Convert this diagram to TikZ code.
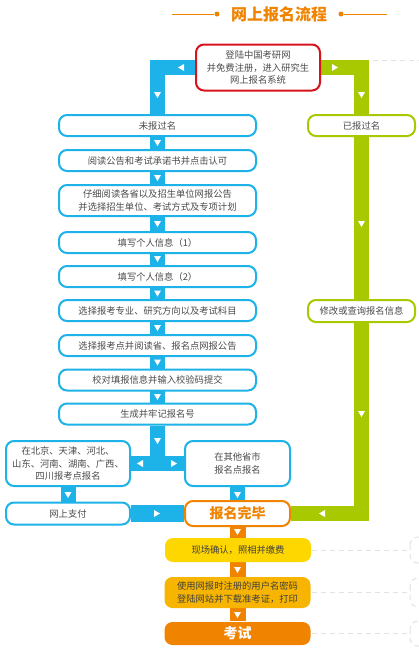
\documentclass[tikz,border=0pt]{standalone}
\usepackage{fontspec}
\setmainfont{Noto Sans CJK SC}
\newfontfamily\cjk{Noto Sans CJK SC}
\definecolor{cblue}{HTML}{1DB3E9}
\definecolor{cgreen}{HTML}{A8C800}
\definecolor{cred}{HTML}{D7141E}
\definecolor{corange}{HTML}{F08300}
\definecolor{cyellow}{HTML}{FFD700}
\definecolor{cgold}{HTML}{F7B400}
\definecolor{ctext}{HTML}{4A4A4A}
\definecolor{cfaint}{HTML}{E2E2E2}
\pgfdeclarelayer{bgl}
\pgfdeclarelayer{pipes}
\pgfsetlayers{bgl,pipes,main}
\newcommand\tdown[1]{\fill[white] (#1) ++(-3.5,-3) -- ++(7,0) -- ++(-3.5,6) -- cycle;}
\newcommand\tleft[1]{\fill[white] (#1) ++(3,-3.5) -- ++(0,7) -- ++(-6,-3.5) -- cycle;}
\newcommand\tright[1]{\fill[white] (#1) ++(-3,-3.5) -- ++(0,7) -- ++(6,-3.5) -- cycle;}
\tikzset{
  pipe/.style={line width=15pt},
  bluepipe/.style={pipe, draw=cblue},
  greenpipe/.style={pipe, draw=cgreen},
  orangepipe/.style={pipe, draw=corange},
  box/.style={rectangle, rounded corners=8pt, line width=2pt, fill=white, inner sep=0pt,
    align=center, text=ctext, font=\fontsize{9.3}{12.5}\selectfont},
  bbox/.style={box, draw=cblue, minimum width=197pt, minimum height=21pt},
  gbox/.style={box, draw=cgreen, minimum width=107pt, minimum height=21pt},
  fbox/.style={box, draw=none, minimum width=146pt},
  greydash/.style={draw=cfaint, line width=1pt, dash pattern=on 5pt off 4pt},
  tdot/.style={circle, fill=corange, inner sep=0pt, minimum size=5pt},
}
\begin{document}
\begin{tikzpicture}[x=1pt,y=-1pt]
\begin{pgfonlayer}{bgl}
\fill[white] (0,0) rectangle (419,665);
\end{pgfonlayer}
\useasboundingbox (0,0) rectangle (419,665);

% title
\node[text=corange, font=\fontsize{16}{18}\bfseries\selectfont] (title) at (279,14) {网上报名流程};
\coordinate (tl) at (172,14);
\node[tdot] (d1) at (217,14) {};
\node[tdot] (d2) at (341,14) {};
\coordinate (tr) at (387,14);
\draw[corange, line width=0.8pt] (tl) -- (d1);
\draw[corange, line width=0.8pt] (d2) -- (tr);

% nodes
\node[box, draw=cred, minimum width=124pt, minimum height=46pt] (top) at (258,67.5)
  {登陆中国考研网\\并免费注册，进入研究生\\网上报名系统};
\node[bbox] (nb) at (157.5,125.5) {未报过名};
\node[bbox] (yd) at (157.5,160.5) {阅读公告和考试承诺书并点击认可};
\node[bbox, minimum height=31pt] (zx) at (157.5,200.5) {仔细阅读各省以及招生单位网报公告\\并选择招生单位、考试方式及专项计划};
\node[bbox] (t1) at (157.5,242.5) {填写个人信息（1）};
\node[bbox] (t2) at (157.5,276.5) {填写个人信息（2）};
\node[bbox] (xz) at (157.5,310.5) {选择报考专业、研究方向以及考试科目};
\node[bbox] (xd) at (157.5,345.5) {选择报考点并阅读省、报名点网报公告};
\node[bbox] (jd) at (157.5,380) {校对填报信息并输入校验码提交};
\node[bbox] (sc) at (157.5,414) {生成并牢记报名号};
\node[box, draw=cblue, minimum width=124pt, minimum height=45pt] (bj) at (68,463.5)
  {在北京、天津、河北、\\山东、河南、湖南、广西、\\四川报考点报名};
\node[box, draw=cblue, minimum width=105pt, minimum height=45pt] (qt) at (237.5,463.5)
  {在其他省市\\报名点报名};
\node[box, draw=cblue, minimum width=124pt, minimum height=22pt] (wz) at (68,513.5) {网上支付};
\node[box, draw=corange, minimum width=105pt, minimum height=25pt, text=corange,
  font=\fontsize{14}{16}\bfseries\selectfont] (wc) at (237.5,513.5) {报名完毕};
\node[gbox] (ybg) at (361.5,125.5) {已报过名};
\node[gbox, minimum height=22pt] (xg) at (361.5,311) {修改或查询报名信息};
\node[fbox, fill=cyellow, minimum height=24pt, text=black!75] (xc) at (238,550) {现场确认，照相并缴费};
\node[fbox, fill=cgold, minimum height=31pt, text=black!75] (dl) at (237.5,592.5) {使用网报时注册的用户名密码\\登陆网站并下载准考证，打印};
\node[fbox, fill=corange, minimum height=23pt, text=white,
  font=\fontsize{14}{16}\bfseries\selectfont] (ks) at (237.5,633.5) {考试};

% pipes
\coordinate (j) at (157.5,463.5);
\begin{pgfonlayer}{pipes}
\draw[bluepipe] (top.west) -| (nb.north);
\draw[bluepipe] (nb) -- (sc);
\draw[bluepipe] (sc) -- (j);
\draw[bluepipe] (bj) -- (qt);
\draw[bluepipe] (bj) -- (wz);
\draw[bluepipe] (qt) -- (wc);
\draw[bluepipe, line width=17pt] (wz) -- (wc);
\draw[greenpipe] (top.east) -| (ybg.north);
\draw[greenpipe] (ybg) -- (xg);
\draw[greenpipe] (xg.south) |- (wc.east);
\draw[orangepipe, line width=16pt] (wc) -- (ks);
\end{pgfonlayer}

% arrow marks
\tleft{181,67.5} \tdown{157.5,95}
\tdown{157.5,143} \tdown{157.5,178} \tdown{157.5,224} \tdown{157.5,259}
\tdown{157.5,293.5} \tdown{157.5,328} \tdown{157.5,362.5} \tdown{157.5,397}
\tdown{157.5,441} \tleft{140,463.5} \tright{174,463.5}
\tdown{68,495} \tdown{237.5,495} \tright{157,513.5}
\tright{335,67.5} \tdown{361.5,95} \tdown{361.5,224} \tdown{361.5,414}
\tleft{322,513.5}
\tdown{237.5,532} \tdown{237.5,570} \tdown{237.5,615}

% faint dashed leaders
\coordinate (g0) at (373,60);
\coordinate (g1) at (419,60);
\draw[greydash] (g0) -- (g1);
\coordinate (f1) at (408,550);
\coordinate (f2) at (408,592.5);
\coordinate (f3) at (408,633.5);
\draw[greydash] (xc.east) -- (f1);
\draw[greydash] (dl.east) -- (f2);
\draw[greydash] (ks.east) -- (f3);
\begin{scope}
\clip (0,0) rectangle (419,665);
\draw[greydash, rounded corners=8pt] (410,537) rectangle (470,563);
\draw[greydash, rounded corners=8pt] (410,578) rectangle (470,607);
\draw[greydash, rounded corners=8pt] (410,621) rectangle (470,646);
\end{scope}
\end{tikzpicture}
\end{document}
